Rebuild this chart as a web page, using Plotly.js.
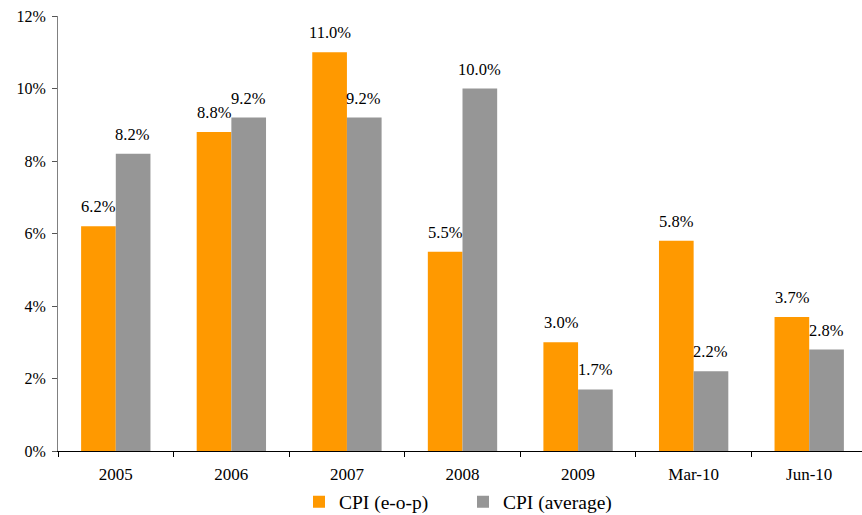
<!DOCTYPE html>
<html><head><meta charset="utf-8">
<script src="https://cdn.plot.ly/plotly-3.0.1.min.js"></script>
<style>html,body{margin:0;padding:0;background:#fff;overflow:hidden;width:862px;height:515px}#chart{width:867px;height:515px}</style>
</head><body><div id="chart"></div>
<script>
const categories = ['2005','2006','2007','2008','2009','Mar-10','Jun-10'];
const cpiEop = [6.2, 8.8, 11.0, 5.5, 3.0, 5.8, 3.7];
const cpiAvg = [8.2, 9.2, 9.2, 10.0, 1.7, 2.2, 2.8];
const seriesNames = ['CPI (e-o-p)', 'CPI (average)'];

const font = "'Liberation Serif', 'Times New Roman', serif";
const traces = [
  {type:'bar', name:seriesNames[0], x:categories, y:cpiEop, marker:{color:'#FF9900'}, hoverinfo:'none'},
  {type:'bar', name:seriesNames[1], x:categories, y:cpiAvg, marker:{color:'#969696'}, hoverinfo:'none'}
];
const annotations = [];
categories.forEach((c,i)=>{
  annotations.push({x:i, y:cpiEop[i], text:cpiEop[i].toFixed(1)+'%', xref:'x', yref:'y', showarrow:false, yanchor:'bottom', yshift:8, xshift:-17, font:{family:font,size:16.5,color:'#000'}});
  annotations.push({x:i, y:cpiAvg[i], text:cpiAvg[i].toFixed(1)+'%', xref:'x', yref:'y', showarrow:false, yanchor:'bottom', yshift:8, xshift:17, font:{family:font,size:16.5,color:'#000'}});
});
const layout = {
  width:867, height:515,
  margin:{l:58, r:0, t:16, b:64},
  paper_bgcolor:'#fff', plot_bgcolor:'#fff',
  font:{family:font, size:16, color:'#000'},
  barmode:'group', bargap:0.4, bargroupgap:0,
  showlegend:true,
  legend:{orientation:'h', x:299/867, xanchor:'left', xref:'container', yref:'container', y:0.025, yanchor:'middle', font:{family:font,size:19.5}, itemwidth:30, entrywidth:119, entrywidthmode:'pixels', traceorder:'normal'},
  xaxis:{type:'category', showline:true, linecolor:'#000', linewidth:1, ticks:'outside', tickson:'boundaries', ticklen:5, tickcolor:'#000', showgrid:false, tickfont:{family:font,size:17}, ticklabelstandoff:8, zeroline:false, automargin:false},
  yaxis:{range:[0,12], dtick:2, ticksuffix:'%', showline:true, linecolor:'#808080', linewidth:1, ticks:'outside', ticklen:5, tickcolor:'#555', showgrid:false, zeroline:false, tickfont:{family:font,size:16}, ticklabelstandoff:3, automargin:false},
  annotations:annotations
};
Plotly.newPlot('chart', traces, layout, {displayModeBar:false, staticPlot:true});
</script></body></html>
